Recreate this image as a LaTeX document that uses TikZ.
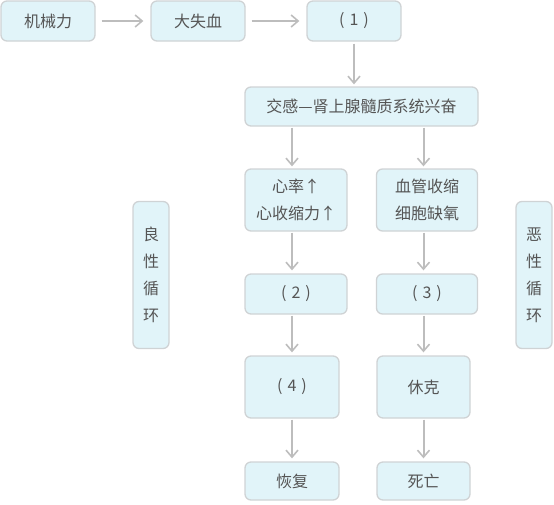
\documentclass[tikz,border=0pt]{standalone}
\usepackage{fontspec}
\setmainfont{Noto Sans CJK SC}
\usepackage{tikz}
\usetikzlibrary{arrows.meta, calc}
\definecolor{boxBlue}{HTML}{E1F4F9}
\definecolor{boxEdge}{HTML}{CFD3D5}
\definecolor{arrGray}{HTML}{BDBDBD}
\definecolor{txtGray}{HTML}{555555}
\newcommand{\numlabel}[1]{(\hspace{5pt}#1\hspace{5pt})}

\begin{document}
\begin{tikzpicture}[x=1pt, y=-1pt,
    blk/.style={draw=boxEdge, fill=boxBlue, line width=1.3pt, rounded corners=6pt,
      text=txtGray, font=\fontsize{16}{27}\selectfont, align=center, inner sep=0pt},
    flow/.style={-{Straight Barb[length=7pt, width=12pt, line width=1.6pt]}, arrGray, line width=2pt},
    vtext/.style={blk, minimum width=36pt, minimum height=147pt}]
    \useasboundingbox (0,0) rectangle (554,504);

    % top row
    \node[blk, minimum width=94pt, minimum height=40pt] (mech) at (48,21) {机械力};
    \node[blk, minimum width=94pt, minimum height=40pt] (loss) at (198,21) {大失血};
    \node[blk, minimum width=94pt, minimum height=40pt] (n1) at (354,21) {\numlabel{1}};
    \node[blk, minimum width=233pt, minimum height=39pt] (symp) at (361.5,106.5) {交感—肾上腺髓质系统兴奋};

    % two columns
    \node[blk, minimum width=102pt, minimum height=62pt] (hr) at (296,200) {心率↑\\心收缩力↑};
    \node[blk, minimum width=101pt, minimum height=62pt] (vc) at (427,200) {血管收缩\\细胞缺氧};
    \node[blk, minimum width=102pt, minimum height=40pt] (n2) at (296,294) {\numlabel{2}};
    \node[blk, minimum width=101pt, minimum height=40pt] (n3) at (427,294) {\numlabel{3}};
    \node[blk, minimum width=94pt, minimum height=62pt] (n4) at (292,387) {\numlabel{4}};
    \node[blk, minimum width=93pt, minimum height=62pt] (shock) at (423.5,387) {休克};
    \node[blk, minimum width=94pt, minimum height=38pt] (rec) at (292,481) {恢复};
    \node[blk, minimum width=93pt, minimum height=38pt] (death) at (423.5,481) {死亡};

    % side labels
    \node[vtext] (good) at (151,275) {良\\性\\循\\环};
    \node[vtext] (bad) at (534,275) {恶\\性\\循\\环};

    % arrows
    \draw[flow, shorten <=6pt, shorten >=7pt] (mech) -- (loss);
    \draw[flow, shorten <=6pt, shorten >=7pt] (loss) -- (n1);
    \draw[flow, shorten <=2pt, shorten >=2pt] (n1) -- (n1 |- symp.north);
    \draw[flow, shorten <=1pt, shorten >=2pt] (symp.south -| n4) -- (hr.north -| n4);
    \draw[flow, shorten <=1pt, shorten >=2pt] (symp.south -| shock) -- (vc.north -| shock);
    \draw[flow, shorten <=1pt, shorten >=3pt] (hr.south -| n4) -- (n2.north -| n4);
    \draw[flow, shorten <=1pt, shorten >=3pt] (vc.south -| shock) -- (n3.north -| shock);
    \draw[flow, shorten <=1pt, shorten >=3pt] (n2.south -| n4) -- (n4);
    \draw[flow, shorten <=1pt, shorten >=3pt] (n3.south -| shock) -- (shock);
    \draw[flow, shorten <=1pt, shorten >=3pt] (n4) -- (rec);
    \draw[flow, shorten <=1pt, shorten >=3pt] (shock) -- (death);
\end{tikzpicture}
\end{document}
